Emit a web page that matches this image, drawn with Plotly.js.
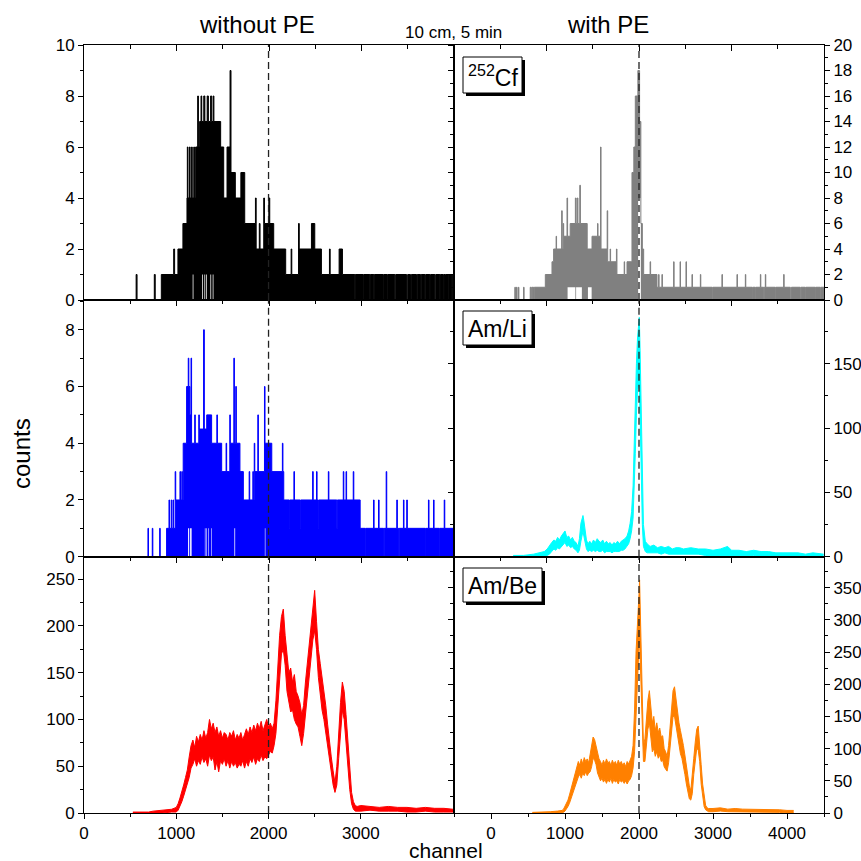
<!DOCTYPE html>
<html><head><meta charset="utf-8">
<script src="https://cdn.plot.ly/plotly-3.0.1.min.js"></script>
<style>html,body{margin:0;padding:0;background:#fff}#chart{width:861px;height:861px}</style>
</head><body><div id="chart"></div>
<script>
// ---------- DATA (channel, counts) ----------
// 252Cf without PE (black) : step histogram, upper / lower envelopes
const cfNoPE_ch = [0,565,575,762,772,838,972,982,1018,1072,1116,1120,1127,1143,1150,1166,1173,1190,1197,1210,1232,1240,1253,1268,1276,1298,1310,1335,1348,1372,1384,1400,1408,1481,1514,1550,1583,1593,1640,1700,1742,1858,1866,1900,1908,1948,1956,2003,2013,2056,2186,2245,2252,2325,2333,2465,2501,2573,2660,2668,2765,2801,2935,2941,3026,3032,3098,3104,3141,3147,3243,3249,3286,3292,3369,3378,3496,3508,3539,3548,3604,3612,3648,3655,3695,3703,3749,3756,3803,3812,3857,3863,3894,3900,3912,3918,3948,3954,3984,3990,4000];
const cfNoPE_hi = [0,1,0,1,0,1,2,1,2,3,4,6,4,6,4,6,4,6,4,6,8,6,7,8,7,8,7,8,7,8,7,8,7,6,4,6,9,5,4,5,3,4,2,3,2,4,3,4,3,2,1,2,1,3,2,3,2,1,2,1,2,1,0,1,0,1,0,1,0,1,0,1,0,1,0,1,0,1,0,1,0,1,0,1,0,1,0,1,0,1,0,1,0,1,0,1,0,1,0,1,1];
const cfNoPE_loCh = [0,1178,1186,1280,1288,1305,1313,1322,1330,1370,1378,1395,1403,4000];
const cfNoPE_lo = [0,1,0,1,0,1,0,1,0,1,0,1,0,0];

// 252Cf with PE (grey)
const cfPE_ch = [300,322,330,345,352,370,377,440,447,530,545,556,575,585,734,824,846,880,886,955,962,975,982,1027,1035,1070,1140,1150,1165,1175,1200,1208,1300,1365,1440,1446,1480,1487,1570,1577,1610,1616,1695,1702,1800,1806,1838,1905,1930,1950,1985,2008,2025,2045,2063,2150,2157,2243,2265,2271,2310,2316,2468,2474,2555,2561,2635,2641,2716,2722,2829,2835,2990,2998,3121,3127,3324,3330,3437,3443,3527,3535,3572,3580,3640,3646,3685,3693,3707,3713,3842,3850,3955,3961,4045,4060,4180,4190,4248,4256,4383,4390,4450,4458,4500];
const cfPE_hi = [0,1,0,1,0,1,0,1,0,1, 0,1,0,1,2,3,4,5,4,7, 4,6,5,8,5,6,8,6,8,6, 9,6,4,5,6,5,12,4,7,3, 4,3,4,2,3,2,3,10,12,16, 18,14,6,4,2,3,2,1,2,1, 2,1,3,1,3,1,3,1,2,1, 2,1,0,1,2,1,2,1,2,1, 0,1,0,1,2,1,0,1,2,1, 0,1,2,1,0,1,0,1,0,1, 0,1,0,1,1];
const cfPE_loCh = [300,1035,1140,1150,1228,1310,1360,1988,2025,4500];
const cfPE_lo = [0,1,0,1,0,1,0,8,0,0];

// Am/Li without PE (blue)
const liNoPE_ch = [0,693,699,740,746,820,826,895,921,927,945,951,965,971,988,994,1040,1046,1060,1066,1075,1112,1130,1136,1148,1160,1166,1200,1206,1244,1250,1296,1304,1330,1383,1440,1446,1492,1540,1546,1580,1586,1624,1630,1645,1651,1690,1727,1790,1796,1830,1836,1845,1851,1884,1890,1956,1962,2035,2150,2156,2165,2222,2228,2275,2281,2345,2351,2478,2484,2520,2526,2540,2546,2648,2654,2740,2746,2810,2816,2840,2846,2918,2924,2993,3048,3054,3138,3144,3192,3198,3247,3253,3275,3281,3390,3396,3410,3416,3462,3468,3498,3504,3700,3706,3733,3739,3788,3794,3851,3857,3904,3910,4000];
const liNoPE_hi = [0,1,0,1,0,1,0,1,2,1, 2,1,2,1,3,2,3,2,3,2, 4,6,7,6,5,7,4,5,4,5, 4.5,8,4.5,5,4,5,4,3,4,3, 5,4,7,4,6,4,3,2,3,2, 3,2,4,3,5,3,6,4,3,4, 3,2,1,2,3,2,1,2,3,2, 3,2,1,2,3,2,1,2,3,2, 3,2,3,2,1,0,1,2,1,2, 1,0,1,3,1,2,1,0,1,2, 1,2,1,0,1,2,1,2,1,0, 1,2,1,1];
const liNoPE_loCh = [0,1128,1140,1150,1166,1310,1316,1326,1332,1345,1351,1378,1384,1630,1638,1960,1966,4000];
const liNoPE_lo = [0,1,0,1,0,1,0,1,0,1,0,1,0,1,0,1,0,0];

// Am/Li with PE (cyan) : continuous noisy spectrum, upper / lower envelope
const liPE_ch = [300,440,576,666,720,760,790,820,850,875, 900,925,950,975,1000,1025,1050,1075,1100,1125, 1150,1175,1195,1215,1230,1243,1255,1270,1290,1310, 1335,1360,1385,1410,1435,1460,1485,1510,1535,1560, 1585,1610,1635,1660,1685,1710,1735,1760,1785,1810, 1838,1860,1880,1900,1920,1935,1950,1965,1980,1995, 2004,2015,2025,2035,2045,2060,2085,2110,2150,2200, 2250,2300,2350,2400,2450,2500,2550,2600,2700,2800, 2900,3000,3100,3198,3250,3350,3450,3550,3650,3750, 3850,3950,4050,4150,4250,4350,4495];
const liPE_hi = [1,1,2,3,4,6,9,11,13,12, 15,13,16,18,20,15,16,13,15,12, 11,8,14,26,30,32,28,20,13,10, 12,10,13,11,14,12,11,13,10,12, 10,11,9,11,10,12,10,12,13,14, 16,20,26,35,55,90,120,150,170,185, 186,160,130,100,60,25,12,10,8,9, 7,8,7,8,6,7,7,6,7,6, 6,5,6,8,5,5,4,5,4,4, 3,3,3,3,2,3,2];
const liPE_lo = [0,0,0,0,0,1,2,4,6,5, 7,6,8,9,11,8,9,7,8,6, 5,3,5,12,18,20,16,10,6,4, 5,4,5,4,5,4,4,5,3,4, 4,4,3,4,4,4,4,5,5,6, 8,10,14,20,30,50,80,110,130,135, 130,110,80,50,25,8,4,3,3,3, 3,2,3,2,2,2,2,2,2,2, 1,1,1,1,1,1,1,1,0,0, 0,0,0,0,0,0,0];

// Am/Be without PE (red)
const beNoPE_ch = [530,700,749,850,950,
 1000,1020,1040,1060,1080,1100,1120,1140,1160,1180, 1200,1220,1240,1260,1280,1300,1320,1340,1360,1380,
 1400,1420,1440,1460,1480,1500,1520,1540,1560,1580, 1600,1620,1640,1660,1680,1700,1720,1740,1760,1780,
 1800,1820,1840,1860,1880,1900,1920,1940,1960,1980, 2000,2020,2040,2060,2080,2100,2120,2140,2160,2180,
 2200,2220,2240,2260,2280,2300,2320,2340,2360,2380, 2400,2420,2440,2460,2480,2500,2520,2540,2560,2580,
 2600,2620,2640,2660,2680,2700,2720,2740,2760,2780, 2800,2820,2840,2860,2880,2900,2920,2940,2960,
 3000,3100,3200,3300,3400,3500,3600,3700,3800,3900,4000];
const beNoPE_hi = [1,1,2,3,4,
 6,10,16,22,30,38,46,60,72,78, 70,82,76,84,78,88,80,86,100,90,
 96,86,92,82,88,80,86,84,78,86, 82,88,78,84,80,86,78,84,90,84,
 92,86,94,88,96,90,98,88,94,100, 92,96,90,96,120,160,190,210,218,190,
 170,150,155,140,148,130,125,118,105,115, 140,160,180,200,222,238,205,175,160,145,
 135,115,95,75,60,45,32,50,85,118, 140,130,105,75,45,22,12,8,7,
 8,7,6,7,6,6,5,6,5,5,4];
const beNoPE_lo = [0,0,0,0,1,
 1,3,7,12,18,24,30,38,48,52, 58,50,56,52,60,54,58,50,62,56,
 60,46,55,44,56,52,58,50,56,48, 55,50,54,48,52,50,56,48,55,50,
 58,54,60,52,58,55,62,56,60,58, 62,66,64,72,85,115,150,170,175,158,
 130,118,108,110,100,95,92,82,72,85, 105,125,145,165,185,195,175,145,125,110,
 100,85,70,55,40,30,22,30,58,90, 110,100,75,50,25,10,4,2,2,
 2,3,2,2,2,1,1,2,1,1,1];

// Am/Be with PE (orange)
const bePE_ch = [560,620,666,800,900,960,980,
 1000,1020,1040,1060,1080,1100,1120,1140,1160,1180, 1200,1220,1240,1260,1280,1300,1320,1340,1360,1380,
 1400,1420,1440,1460,1480,1500,1520,1540,1560,1580, 1600,1620,1640,1660,1680,1700,1720,1740,1760,1780,
 1800,1820,1840,1860,1880,1900,1920,1940,1960,1980, 2000,2008,
 2020,2040,2060,2080,2100,2120,2140,2160,2180,2200, 2220,2240,2260,2280,2300,2320,2340,2360,2380,2400,
 2420,2440,2460,2480,2500,2520,2540,2560,2580,2600, 2620,2640,2660,2680,2700,2720,2740,2760,2780,2800,
 2820,2840,2860,2880,2900,2920,2940,
 3000,3100,3200,3300,3400,3500,3600,3700,3800,3900,4000,4090];
const bePE_hi = [1,1,1,2,3,4,6,
 10,14,20,28,36,46,54,62,72,80, 74,84,76,86,80,84,78,90,100,118,
 114,104,92,84,80,74,82,76,84,78, 80,74,82,76,80,74,82,76,80,74,
 78,72,80,76,82,88,105,160,250,310, 340,362,
 290,200,105,115,150,175,190,165,140,150, 128,140,125,132,118,120,100,95,88,105,
 130,165,190,196,175,155,140,128,118,105, 90,72,56,42,35,55,85,110,130,135,
 110,75,45,25,12,8,7,
 7,8,6,7,6,6,5,6,5,5,4,4];
const bePE_lo = [0,0,0,0,0,0,1,
 3,6,10,15,22,30,36,42,50,56, 60,54,62,58,64,58,62,64,72,85,
 82,75,62,55,50,54,48,52,46,52, 48,54,46,52,48,50,45,52,48,50,
 46,50,45,50,52,58,70,95,150,230, 260,270,
 230,140,80,80,105,130,140,110,95,100, 88,95,85,90,80,82,72,68,65,78,
 100,130,150,150,135,115,100,92,85,75, 60,45,32,22,20,30,60,85,100,98,
 80,45,25,10,5,3,2,
 2,3,2,2,1,2,1,1,1,1,0,0];

// tick labels
const leftXTicks = [0,1000,2000,3000];
const leftXMinor = [500,1500,2500,3500];
const markerChannel = 2000;

// ---------- LAYOUT HELPERS ----------
const FONT = 'Liberation Sans, Arial, Helvetica, sans-serif';
const W = 861, H = 861, ML = 84, MR = 37, MT = 45, MB = 48;
const PW = W - ML - MR, PH = H - MT - MB;
const px = x => (x - ML) / PW;
const py = y => (H - MB - y) / PH;
const rows = [[py(300), 1], [py(556.7), py(300)], [0, py(556.7)]];

function band(chHi, hi, chLo, lo, color, shape, n) {
  const xa = 'x' + (n === 1 ? '' : n), ya = 'y' + (n === 1 ? '' : n);
  return [
    {x: chLo, y: lo, mode: 'lines', line: {color: color, width: shape === 'hv' ? 0 : 1, shape: shape},
     xaxis: xa, yaxis: ya, hoverinfo: 'skip', showlegend: false},
    {x: chHi, y: hi, mode: 'lines', line: {color: color, width: 1, shape: shape}, fill: 'tonexty', fillcolor: color,
     xaxis: xa, yaxis: ya, hoverinfo: 'skip', showlegend: false}
  ];
}

const data = [].concat(
  band(cfNoPE_ch, cfNoPE_hi, cfNoPE_loCh, cfNoPE_lo, '#000000', 'hv', 1),
  band(cfPE_ch, cfPE_hi, cfPE_loCh, cfPE_lo, '#808080', 'hv', 2),
  band(liNoPE_ch, liNoPE_hi, liNoPE_loCh, liNoPE_lo, '#0000ff', 'hv', 3),
  band(liPE_ch, liPE_hi, liPE_ch, liPE_lo, '#00ffff', 'linear', 4),
  band(beNoPE_ch, beNoPE_hi, beNoPE_ch, beNoPE_lo, '#ff0000', 'linear', 5),
  band(bePE_ch, bePE_hi, bePE_ch, bePE_lo, '#ff8000', 'linear', 6)
);
// dummy traces so the top tick axes are drawn
const panelY = ['y','y2','y3','y4','y5','y6'];
for (let i = 0; i < 6; i++) {
  data.push({x: [null], y: [null], mode: 'lines', xaxis: 'x' + (7 + i), yaxis: panelY[i], hoverinfo: 'skip', showlegend: false});
}

const tickfont = {family: FONT, size: 17, color: '#000'};
const base = {showgrid: false, zeroline: false, showline: true, linecolor: '#000', linewidth: 1,
  tickcolor: '#000', tickwidth: 1, ticklen: 5, tickfont: tickfont};

const layout = {
  width: W, height: H, autosize: false,
  margin: {l: ML, r: MR, t: MT, b: MB, pad: 0},
  paper_bgcolor: '#fff', plot_bgcolor: '#fff', showlegend: false,
  font: {family: FONT, color: '#000'},
  xaxis:  Object.assign({}, base, {domain: [0, 0.5], range: [0, 4010], anchor: 'y', mirror: true, ticks: '', showticklabels: false}),
  xaxis2: Object.assign({}, base, {domain: [0.5, 1], range: [-500, 4500], anchor: 'y2', mirror: true, ticks: '', showticklabels: false}),
  xaxis3: Object.assign({}, base, {domain: [0, 0.5], range: [0, 4010], anchor: 'y3', mirror: true, ticks: '', showticklabels: false}),
  xaxis4: Object.assign({}, base, {domain: [0.5, 1], range: [-500, 4500], anchor: 'y4', mirror: true, ticks: '', showticklabels: false}),
  xaxis5: Object.assign({}, base, {domain: [0, 0.5], range: [0, 4010], anchor: 'y5', mirror: true, ticks: 'outside',
     tickmode: 'array', tickvals: leftXTicks, ticktext: leftXTicks.map(String),
     minor: {tickmode: 'array', tickvals: leftXMinor, ticks: 'outside', ticklen: 3, tickcolor: '#000'}}),
  xaxis6: Object.assign({}, base, {domain: [0.5, 1], range: [-500, 4500], anchor: 'y6', mirror: true, ticks: 'outside',
     tickmode: 'linear', tick0: 0, dtick: 1000, minor: {dtick: 500, ticks: 'outside', ticklen: 3, tickcolor: '#000'}}),
  yaxis:  Object.assign({}, base, {domain: rows[0], range: [0, 10], anchor: 'x', side: 'left', mirror: true, ticks: 'outside', dtick: 2,
     minor: {dtick: 1, ticks: 'outside', ticklen: 3, tickcolor: '#000'}}),
  yaxis2: Object.assign({}, base, {domain: rows[0], range: [0, 20], anchor: 'x2', side: 'right', mirror: 'ticks', ticks: 'outside', dtick: 2,
     minor: {dtick: 1, ticks: 'outside', ticklen: 3, tickcolor: '#000'}}),
  yaxis3: Object.assign({}, base, {domain: rows[1], range: [0, 9.05], anchor: 'x3', side: 'left', mirror: true, ticks: 'outside', dtick: 2,
     minor: {dtick: 1, ticks: 'outside', ticklen: 3, tickcolor: '#000'}}),
  yaxis4: Object.assign({}, base, {domain: rows[1], range: [0, 199.5], anchor: 'x4', side: 'right', mirror: 'ticks', ticks: 'outside', dtick: 50,
     minor: {dtick: 25, ticks: 'outside', ticklen: 3, tickcolor: '#000'}}),
  yaxis5: Object.assign({}, base, {domain: rows[2], range: [0, 274], anchor: 'x5', side: 'left', mirror: true, ticks: 'outside', dtick: 50,
     minor: {dtick: 25, ticks: 'outside', ticklen: 3, tickcolor: '#000'}}),
  yaxis6: Object.assign({}, base, {domain: rows[2], range: [0, 398], anchor: 'x6', side: 'right', mirror: 'ticks', ticks: 'outside', dtick: 50,
     minor: {dtick: 25, ticks: 'outside', ticklen: 3, tickcolor: '#000'}}),
  shapes: [], annotations: []
};
const overlayOf = ['x','x2','x3','x4','x5','x6'];
for (let i = 0; i < 6; i++) {
  layout['xaxis' + (7 + i)] = {overlaying: overlayOf[i], anchor: panelY[i], side: 'top', range: [0, 4000],
    showgrid: false, zeroline: false, showline: false, showticklabels: false,
    ticks: 'inside', tickmode: 'linear', tick0: 0, dtick: 1000, ticklen: 6, tickcolor: '#000', tickwidth: 1,
    minor: {dtick: 500, ticks: 'inside', ticklen: 4, tickcolor: '#000'}};
}
// dashed marker lines
for (let i = 0; i < 6; i++) {
  layout.shapes.push({type: 'line', xref: overlayOf[i], yref: panelY[i] + ' domain', x0: markerChannel, x1: markerChannel, y0: 0, y1: 1,
    line: {color: '#222', width: 1.3, dash: '7px,4px'}, layer: 'above'});
}
// labelled boxes with drop shadow
const boxes = [
  {t: '<sup>252</sup>Cf', x0: 463, x1: 522, y0: 57, y1: 93},
  {t: 'Am/Li', x0: 463, x1: 532, y0: 311, y1: 345},
  {t: 'Am/Be', x0: 463, x1: 542, y0: 568, y1: 602}
];
boxes.forEach(b => {
  layout.shapes.push({type: 'rect', xref: 'paper', yref: 'paper', x0: px(b.x0 + 3), x1: px(b.x1 + 3), y0: py(b.y1 + 3), y1: py(b.y0 + 3),
    fillcolor: '#000', line: {width: 0}, layer: 'above'});
  layout.shapes.push({type: 'rect', xref: 'paper', yref: 'paper', x0: px(b.x0), x1: px(b.x1), y0: py(b.y1), y1: py(b.y0),
    fillcolor: '#fff', line: {color: '#000', width: 1}, layer: 'above'});
  layout.annotations.push({text: b.t, xref: 'paper', yref: 'paper', x: px((b.x0 + b.x1) / 2), y: py((b.y0 + b.y1) / 2 + 1),
    xanchor: 'center', yanchor: 'middle', showarrow: false, font: {family: FONT, size: 23, color: '#000'}});
});
const txt = (t, x, y, size, angle) => ({text: t, xref: 'paper', yref: 'paper', x: px(x), y: py(y), xanchor: 'center', yanchor: 'middle',
  showarrow: false, textangle: angle || 0, font: {family: FONT, size: size, color: '#000'}});
layout.annotations.push(txt('without PE', 257, 24, 24));
layout.annotations.push(txt('10 cm, 5 min', 453, 32, 17));
layout.annotations.push(txt('with PE', 608, 24, 24));
layout.annotations.push(txt('counts', 22, 454, 24, -90));
layout.annotations.push(txt('channel', 446, 850, 21));

Plotly.newPlot('chart', data, layout, {staticPlot: true, displayModeBar: false});
</script>
</body></html>
